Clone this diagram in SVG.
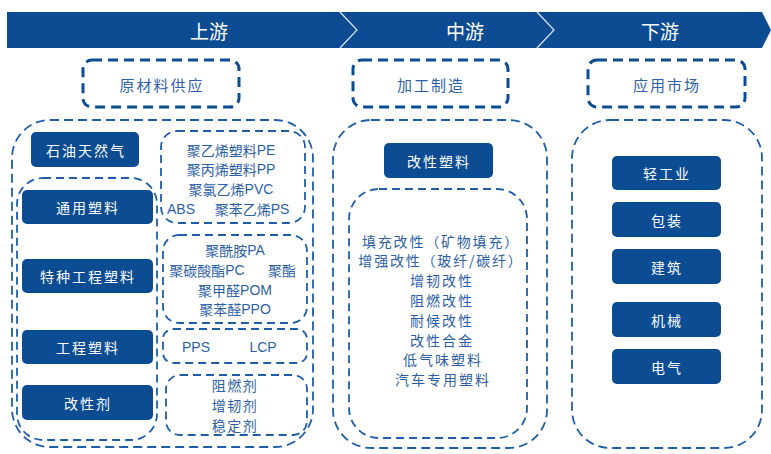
<svg xmlns="http://www.w3.org/2000/svg" width="771" height="454" viewBox="0 0 771 454">
<style>
.cn{font-family:"Noto Sans CJK SC","Liberation Sans",sans-serif;}
.lt{font-family:"Liberation Sans","Noto Sans CJK SC",sans-serif;}
.hdr{fill:#fff;stroke:#0D4C92;stroke-width:3;stroke-dasharray:10 6;}
.outer{fill:none;stroke:#1E5EA8;stroke-width:1.8;stroke-dasharray:9 5;}
.inner{fill:none;stroke:#1E5EA8;stroke-width:1.8;stroke-dasharray:8 5;}
.solid{fill:#0B4C93;}
.wt{fill:#fff;font-size:14px;letter-spacing:2px;text-anchor:middle;dominant-baseline:central;}
.bt{fill:#2D5FA8;font-size:14px;text-anchor:middle;dominant-baseline:central;}
.ht{fill:#2D5FA8;font-size:15px;letter-spacing:2px;text-anchor:middle;dominant-baseline:central;}
.ban{fill:#fff;font-size:19px;text-anchor:middle;dominant-baseline:central;}
</style>
<g id="banner">
<polygon points="7,12 762,12 771,30 762,48 7,48" fill="#0D4C92"/>
<polyline points="340,12 357,30 340,48" fill="none" stroke="#DCE6F2" stroke-width="1.2"/>
<polyline points="537,12 554,30 537,48" fill="none" stroke="#DCE6F2" stroke-width="1.2"/>
<text class="ban cn" x="209" y="30">上游</text>
<text class="ban cn" x="465" y="30">中游</text>
<text class="ban cn" x="660" y="30">下游</text>
</g>
<g id="h-raw"><rect class="hdr" x="83" y="60" width="156" height="47" rx="9"/><text class="ht cn" x="162" y="84">原材料供应</text></g>
<g id="h-mfg"><rect class="hdr" x="353" y="60" width="155" height="47" rx="9"/><text class="ht cn" x="431" y="84">加工制造</text></g>
<g id="h-app"><rect class="hdr" x="588" y="60" width="157" height="47" rx="9"/><text class="ht cn" x="667" y="84">应用市场</text></g>

<g id="up-outer"><rect class="outer" x="12" y="120" width="301" height="327" rx="38"/></g>
<g id="up-left"><rect class="inner" x="17" y="178" width="140" height="262" rx="26"/></g>
<g id="n-oil"><rect class="solid" x="31" y="132" width="108" height="35" rx="5"/><text class="wt cn" x="86" y="150">石油天然气</text></g>
<g id="n-general"><rect class="solid" x="22" y="190" width="131" height="34" rx="5"/><text class="wt cn" x="88" y="207">通用塑料</text></g>
<g id="n-special"><rect class="solid" x="22" y="259" width="131" height="34" rx="5"/><text class="wt cn" x="88" y="276">特种工程塑料</text></g>
<g id="n-eng"><rect class="solid" x="22" y="330" width="131" height="34" rx="5"/><text class="wt cn" x="88" y="347">工程塑料</text></g>
<g id="n-mod"><rect class="solid" x="22" y="385" width="131" height="35" rx="5"/><text class="wt cn" x="88" y="403">改性剂</text></g>

<g id="b-general"><rect class="inner" x="161" y="131" width="144" height="92" rx="16"/>
<text class="bt cn" x="231" y="150">聚乙烯塑料<tspan class="lt">PE</tspan></text>
<text class="bt cn" x="231" y="169">聚丙烯塑料<tspan class="lt">PP</tspan></text>
<text class="bt cn" x="231" y="189">聚氯乙烯<tspan class="lt">PVC</tspan></text>
<text class="bt lt" x="181" y="209">ABS</text>
<text class="bt cn" x="252" y="209">聚苯乙烯<tspan class="lt">PS</tspan></text>
</g>
<g id="b-special"><rect class="inner" x="163" y="235" width="144" height="88" rx="16"/>
<text class="bt cn" x="235" y="250">聚酰胺<tspan class="lt">PA</tspan></text>
<text class="bt cn" x="207" y="270">聚碳酸酯<tspan class="lt">PC</tspan></text>
<text class="bt cn" x="282" y="270">聚酯</text>
<text class="bt cn" x="235" y="290">聚甲醛<tspan class="lt">POM</tspan></text>
<text class="bt cn" x="235" y="309">聚苯醛<tspan class="lt">PPO</tspan></text>
</g>
<g id="b-eng"><rect class="inner" x="163" y="329" width="144" height="34" rx="10"/>
<text class="bt lt" x="196" y="347">PPS</text>
<text class="bt lt" x="263" y="347">LCP</text>
</g>
<g id="b-mod"><rect class="inner" x="166" y="375" width="141" height="60" rx="14"/>
<text class="bt cn" x="235" y="385" style="letter-spacing:1.5px">阻燃剂</text>
<text class="bt cn" x="235" y="405" style="letter-spacing:1.5px">增韧剂</text>
<text class="bt cn" x="235" y="425" style="letter-spacing:1.5px">稳定剂</text>
</g>

<g id="mid-outer"><rect class="outer" x="333" y="120" width="214" height="328" rx="38"/></g>
<g id="n-modplastic"><rect class="solid" x="384" y="143" width="109" height="35" rx="5"/><text class="wt cn" x="439" y="161">改性塑料</text></g>
<g id="mid-inner"><rect class="inner" x="349" y="189" width="178" height="249" rx="30"/>
<text class="bt cn" x="441" y="241" style="letter-spacing:1.8px">填充改性（矿物填充）</text>
<text class="bt cn" x="441" y="260" style="letter-spacing:1.8px">增强改性（玻纤/碳纤）</text>
<text class="bt cn" x="442" y="280" style="letter-spacing:2px">增韧改性</text>
<text class="bt cn" x="442" y="300" style="letter-spacing:2px">阻燃改性</text>
<text class="bt cn" x="442" y="320" style="letter-spacing:2px">耐候改性</text>
<text class="bt cn" x="442" y="340" style="letter-spacing:2px">改性合金</text>
<text class="bt cn" x="443" y="359" style="letter-spacing:2px">低气味塑料</text>
<text class="bt cn" x="443" y="379" style="letter-spacing:2px">汽车专用塑料</text>
</g>

<g id="down-outer"><rect class="outer" x="572" y="120" width="190" height="328" rx="38"/></g>
<g id="n-light"><rect class="solid" x="612" y="156" width="109" height="34" rx="5"/><text class="wt cn" x="667" y="173">轻工业</text></g>
<g id="n-pack"><rect class="solid" x="612" y="202" width="109" height="35" rx="5"/><text class="wt cn" x="667" y="220">包装</text></g>
<g id="n-build"><rect class="solid" x="612" y="249" width="109" height="35" rx="5"/><text class="wt cn" x="667" y="267">建筑</text></g>
<g id="n-mach"><rect class="solid" x="612" y="302" width="109" height="35" rx="5"/><text class="wt cn" x="667" y="320">机械</text></g>
<g id="n-elec"><rect class="solid" x="612" y="349" width="109" height="35" rx="5"/><text class="wt cn" x="667" y="367">电气</text></g>
<g id="connectors"></g>
</svg>
